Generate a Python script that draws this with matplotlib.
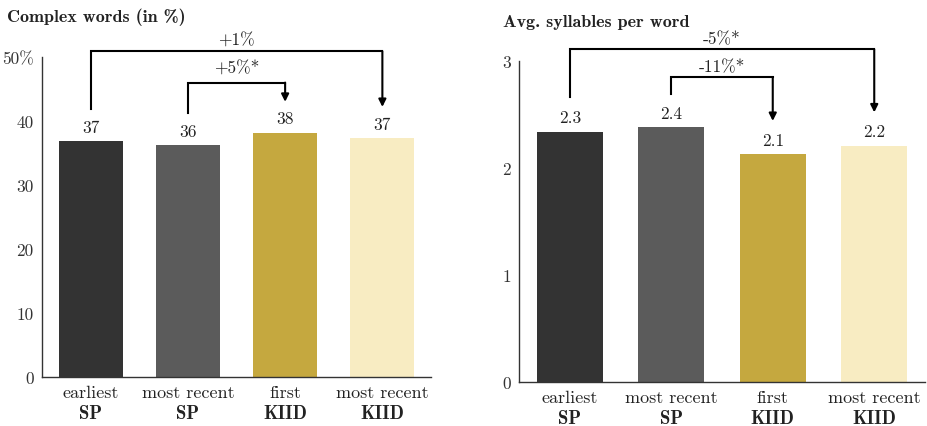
import matplotlib
matplotlib.use("Agg")
from matplotlib import pyplot as plt

# categories
cat_top = ["earliest", "most recent", "first", "most recent"]
cat_bottom = ["SP", "SP", "KIID", "KIID"]
bar_colors = ["#333333", "#5b5b5b", "#c5a83f", "#f8ecc2"]

# left panel: complex words (%)
complex_vals = [36.9, 36.2, 38.2, 37.3]
complex_labels = ["37", "36", "38", "37"]
complex_ticks = [0, 10, 20, 30, 40, 50]
complex_ticklabels = ["0", "10", "20", "30", "40", "50%"]

# right panel: avg. syllables per word
syll_vals = [2.34, 2.38, 2.13, 2.21]
syll_labels = ["2.3", "2.4", "2.1", "2.2"]
syll_ticks = [0, 1, 2, 3]
syll_ticklabels = ["0", "1", "2", "3"]

# brackets: (from, to, top, leg bottom, arrow tip, label, label y)
complex_brackets = [
    (0, 3, 50.9, 41.9, 42.2, "+1%", 52.6),
    (1, 2, 46.0, 41.2, 43.0, "+5%*", 48.3),
]
syll_brackets = [
    (0, 3, 3.11, 2.66, 2.52, "-5%*", 3.21),
    (1, 2, 2.85, 2.69, 2.44, "-11%*", 2.95),
]

RM = "cmr10"
BF = "cmb10"
plt.rcParams["font.family"] = RM
plt.rcParams["axes.formatter.use_mathtext"] = True

fig = plt.figure(figsize=(9.27, 4.27), dpi=100)
ax1 = fig.add_axes([42/927, 1-378/427, 389/927, 320/427])
ax2 = fig.add_axes([519/927, 1-383/427, 406/927, 321/427])


def draw_panel(ax, vals, labels, ticks, ticklabels, brackets, ymax, width):
    x = range(len(vals))
    ax.bar(x, vals, width=width, color=bar_colors, edgecolor="none")
    ax.set_xlim(-0.5, 3.5)
    ax.set_ylim(0, ymax)
    for s in ["top", "right"]:
        ax.spines[s].set_visible(False)
    for s in ["left", "bottom"]:
        ax.spines[s].set_color("#333333")
        ax.spines[s].set_linewidth(1.0)
    ax.set_xticks([])
    ax.set_yticks(ticks)
    ax.set_yticklabels(ticklabels, fontsize=12.5, color="#333333")
    ax.tick_params(axis="y", length=0, pad=6)

    for i, v in enumerate(vals):
        ax.annotate(labels[i], xy=(i, v), xytext=(0, 10), textcoords="offset points",
                    ha="center", va="center", fontsize=12.5, color="#222222")
        ax.annotate(cat_top[i], xy=(i, 0), xycoords=("data", "axes fraction"),
                    xytext=(0, -14.5), textcoords="offset points",
                    ha="center", va="baseline", fontsize=13, color="#222222")
        ax.annotate(cat_bottom[i], xy=(i, 0), xycoords=("data", "axes fraction"),
                    xytext=(0, -29.5), textcoords="offset points",
                    ha="center", va="baseline", fontsize=13.5, color="#222222",
                    family=BF)

    for a, b, top, leg, tip, txt, ty in brackets:
        ax.plot([a, a, b], [leg, top, top], color="black", lw=1.5,
                clip_on=False, solid_joinstyle="miter")
        ax.annotate("", xy=(b, tip), xytext=(b, top),
                    arrowprops=dict(arrowstyle="-|>", color="black", lw=1.5,
                                    mutation_scale=11, shrinkA=0, shrinkB=0),
                    annotation_clip=False)
        ax.text((a + b) / 2, ty, txt, ha="center", va="center", fontsize=12.5,
                color="#222222", clip_on=False)


draw_panel(ax1, complex_vals, complex_labels, complex_ticks, complex_ticklabels,
           complex_brackets, 50, 0.66)
draw_panel(ax2, syll_vals, syll_labels, syll_ticks, syll_ticklabels,
           syll_brackets, 3, 0.655)

fig.text(7/927, 1-17/427, "Complex words (in %)", family=BF, fontsize=13,
         ha="left", va="center", color="#222222")
fig.text(503/927, 1-23/427, "Avg. syllables per word", family=BF, fontsize=13,
         ha="left", va="center", color="#222222")

fig.savefig("out.png", dpi=100)
